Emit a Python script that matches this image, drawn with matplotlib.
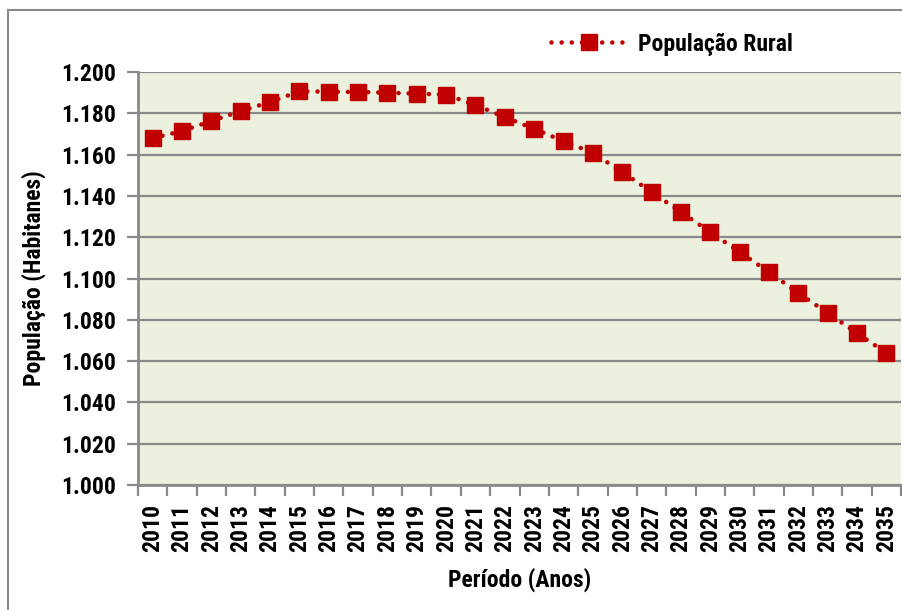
import matplotlib
matplotlib.use('Agg')
import matplotlib.pyplot as plt
from matplotlib import font_manager
from matplotlib.lines import Line2D
from matplotlib.ticker import FuncFormatter, MultipleLocator, FixedLocator

anos = [str(a) for a in range(2010, 2036)]
populacao = [1168, 1171.4, 1176.3, 1181, 1185.5, 1190.6, 1190.5, 1190.3, 1190, 1189.5,
             1189, 1184, 1178.2, 1172.4, 1166.6, 1160.8, 1151.6, 1141.9, 1132.2, 1122.5,
             1112.8, 1103.1, 1093, 1083.3, 1073.6, 1063.9]

# procura uma fonte estreita; se não houver, usa DejaVu Sans condensada
nomes = {f.name for f in font_manager.fontManager.ttflist}
fonte = 'DejaVu Sans'
for f in ['Liberation Sans Narrow', 'Roboto Condensed', 'Open Sans Condensed', 'Arial Narrow']:
    if f in nomes:
        fonte = f
        break
plt.rcParams['font.family'] = [fonte, 'DejaVu Sans']
plt.rcParams['font.weight'] = 'bold'
plt.rcParams['font.stretch'] = 'condensed'

vermelho = '#C00000'
cinza = '#898989'
tam = 17

fig = plt.figure(figsize=(9.03, 6.10), dpi=100)
ax = fig.add_axes([138/903, 1 - 485/610, 763/903, 413/610])
ax.set_facecolor('#EBF1DE')

x = list(range(len(anos)))
ax.plot(x, populacao, color=vermelho, lw=3.3, linestyle=(0, (0.01, 2.2)),
        dash_capstyle='round', marker='s', markersize=11, label='População Rural')

ax.set_xlim(-0.5, len(anos) - 0.5)
ax.set_ylim(1000, 1200)
ax.yaxis.set_major_locator(MultipleLocator(20))
ax.yaxis.set_major_formatter(FuncFormatter(lambda v, p: f"{int(round(v)):,}".replace(',', '.')))
ax.grid(axis='y', color=cinza, lw=1.6)
ax.set_axisbelow(True)

ax.set_xticks(x)
ax.set_xticklabels(anos, rotation=90, fontsize=tam, fontweight='bold')
ax.tick_params(axis='x', which='major', length=0, pad=14)
ax.xaxis.set_minor_locator(FixedLocator([i - 0.5 for i in range(len(anos) + 1)]))
ax.tick_params(axis='x', which='minor', length=8, width=1.6, color=cinza)
ax.tick_params(axis='y', length=8, width=1.6, color=cinza, labelsize=tam, pad=8)

for s in ['top', 'right']:
    ax.spines[s].set_visible(False)
for s in ['left', 'bottom']:
    ax.spines[s].set_color(cinza)
    ax.spines[s].set_linewidth(2)

ax.set_xlabel('Período (Anos)', fontsize=tam, fontweight='bold', labelpad=11)
ax.set_ylabel('População (Habitanes)', fontsize=tam, fontweight='bold', labelpad=11)

fig.legend(loc='center', bbox_to_anchor=(672/903, 1 - 44/610), frameon=False,
           fontsize=tam, handlelength=3.2, handletextpad=0.5, borderpad=0)

fig.add_artist(Line2D([8/903, 8/903], [0, 1 - 10/610], color=cinza, lw=1.5))
fig.add_artist(Line2D([8/903, 1], [1 - 10/610, 1 - 10/610], color=cinza, lw=1.5))

fig.savefig('out.png', dpi=100)
